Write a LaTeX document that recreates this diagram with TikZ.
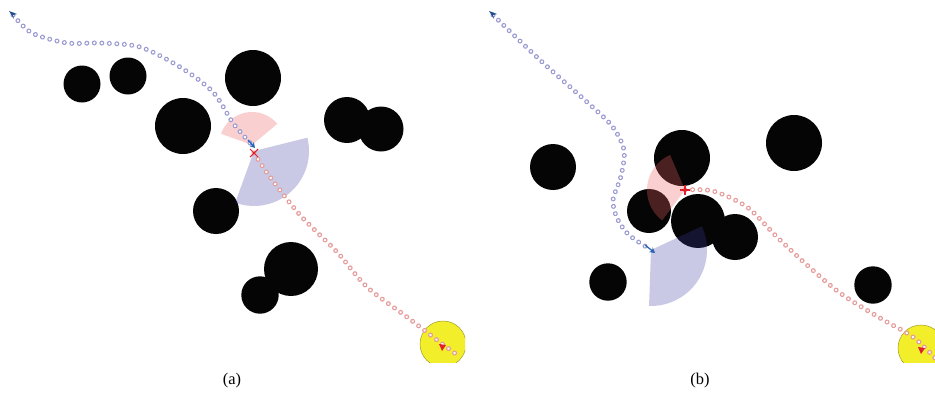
\documentclass[tikz,border=0pt]{standalone}
\usepackage{tikz}
\usepackage{fontspec}
\setmainfont{Liberation Serif}
\usetikzlibrary{arrows.meta}
\definecolor{NavObstacle}{HTML}{050505}
\definecolor{NavPast}{HTML}{9A9AD2}
\definecolor{NavPlan}{HTML}{E69A9A}
\definecolor{NavGoal}{HTML}{F2EE2A}
\definecolor{NavGoalEdge}{HTML}{9E9A20}
\definecolor{NavFront}{HTML}{3C3CA0}
\definecolor{NavBack}{HTML}{F06060}
\definecolor{NavRobot}{HTML}{2A63B5}
\definecolor{NavMark}{HTML}{E0202A}
\tikzset{
  obstacle/.style={fill=NavObstacle},
  goalzone/.style={fill=NavGoal,draw=NavGoalEdge,line width=0.4pt},
  ringdots/.style={line cap=round,dash pattern=on 0.01pt off 2.25mm},
  pasttrail/.style={ringdots,draw=NavPast,line width=1.5mm,
    postaction={draw=white,ringdots,line width=0.85mm}},
  plantrail/.style={ringdots,draw=NavPlan,line width=1.5mm,
    postaction={draw=white,ringdots,line width=0.85mm}},
  frontcone/.style={fill=NavFront,opacity=0.28},
  backcone/.style={fill=NavBack,opacity=0.3},
  robotmark/.style={NavRobot,line width=1.1pt,-{Stealth[length=1.6mm,width=1.8mm]}},
  crossmark/.style={NavMark,line width=0.9pt}
}
\begin{document}
\begin{tikzpicture}[x=0.3mm,y=-0.3mm]
  \useasboundingbox (0,0) rectangle (935,411);

  % panel (a)
  \begin{scope}
    \clip (0,0) rectangle (465,362);
    \foreach \cx/\cy/\r in {82/84/18.5, 128/76/18.5, 253/78/28, 183/126/28,
        347/120/23, 381/129/22.5, 216/211/23, 291/269/27, 260/295/18.7}
      \fill[obstacle] (\cx,\cy) circle[radius=\r];
    \coordinate (goala) at (443,344);
    \fill[goalzone] (goala) circle[radius=23];
    \coordinate (backa) at (252,145);
    \coordinate (fronta) at (254,151);
    \fill[backcone] (backa) -- ++(-40:33) arc[start angle=-40,end angle=-160,radius=33] -- cycle;
    \fill[frontcone] (fronta) -- ++(110:55) arc[start angle=110,end angle=-14,radius=55] -- cycle;
    \draw[pasttrail] plot[smooth] coordinates {(13,15) (32,33) (67,43) (100,43)
      (140,47) (180,67) (213,92) (233,123) (252,145)};
    \draw[plantrail] plot[smooth] coordinates {(254,153) (270,177) (300,215)
      (337,252) (367,287) (407,317) (437,340) (460,357)};
    \fill[NavRobot!80!black] (9,11) -- (17,14) -- (13,15) -- (14,19) -- cycle;
    \draw[robotmark] (248,140) -- (255,148);
    \draw[crossmark] (250,149) -- (258,157) (258,149) -- (250,157);
    \fill[NavMark] (439,344) -- (446,345) -- (442,351) -- cycle;
  \end{scope}

  % panel (b)
  \begin{scope}
    \clip (480,0) rectangle (935,362);
    \foreach \cx/\cy/\r in {553/167/23, 682/158/28, 794/143/28, 649/211/22,
        698/221/27, 735/237/23, 608/282/18.7, 873/285/18.7}
      \fill[obstacle] (\cx,\cy) circle[radius=\r];
    \coordinate (goalb) at (921,348);
    \fill[goalzone] (goalb) circle[radius=23];
    \coordinate (backb) at (685,190);
    \coordinate (frontb) at (651,250);
    \fill[backcone] (backb) -- ++(-113:38) arc[start angle=-113,end angle=-233,radius=38] -- cycle;
    \fill[frontcone] (frontb) -- ++(92:56) arc[start angle=92,end angle=-25,radius=56] -- cycle;
    \draw[pasttrail] plot[smooth] coordinates {(493,15) (540,60) (587,102)
      (612,126) (624,150) (621,176) (613,200) (617,218) (627,233) (640,243) (650,249)};
    \draw[plantrail] plot[smooth] coordinates {(685,190) (713,191) (747,207)
      (777,237) (807,265) (840,293) (880,318) (913,337) (935,358)};
    \fill[NavRobot!80!black] (489,11) -- (497,14) -- (493,15) -- (494,19) -- cycle;
    \draw[robotmark] (645,245) -- (655,253);
    \draw[crossmark] (680,190) -- (690,190) (685,185) -- (685,195);
    \fill[NavMark] (918,347) -- (925,348) -- (921,354) -- cycle;
  \end{scope}

  % captions
  \node[font=\fontsize{14}{16}\selectfont] (capa) at (232,381) {(a)};
  \node[font=\fontsize{14}{16}\selectfont] (capb) at (700,381) {(b)};
\end{tikzpicture}
\end{document}
